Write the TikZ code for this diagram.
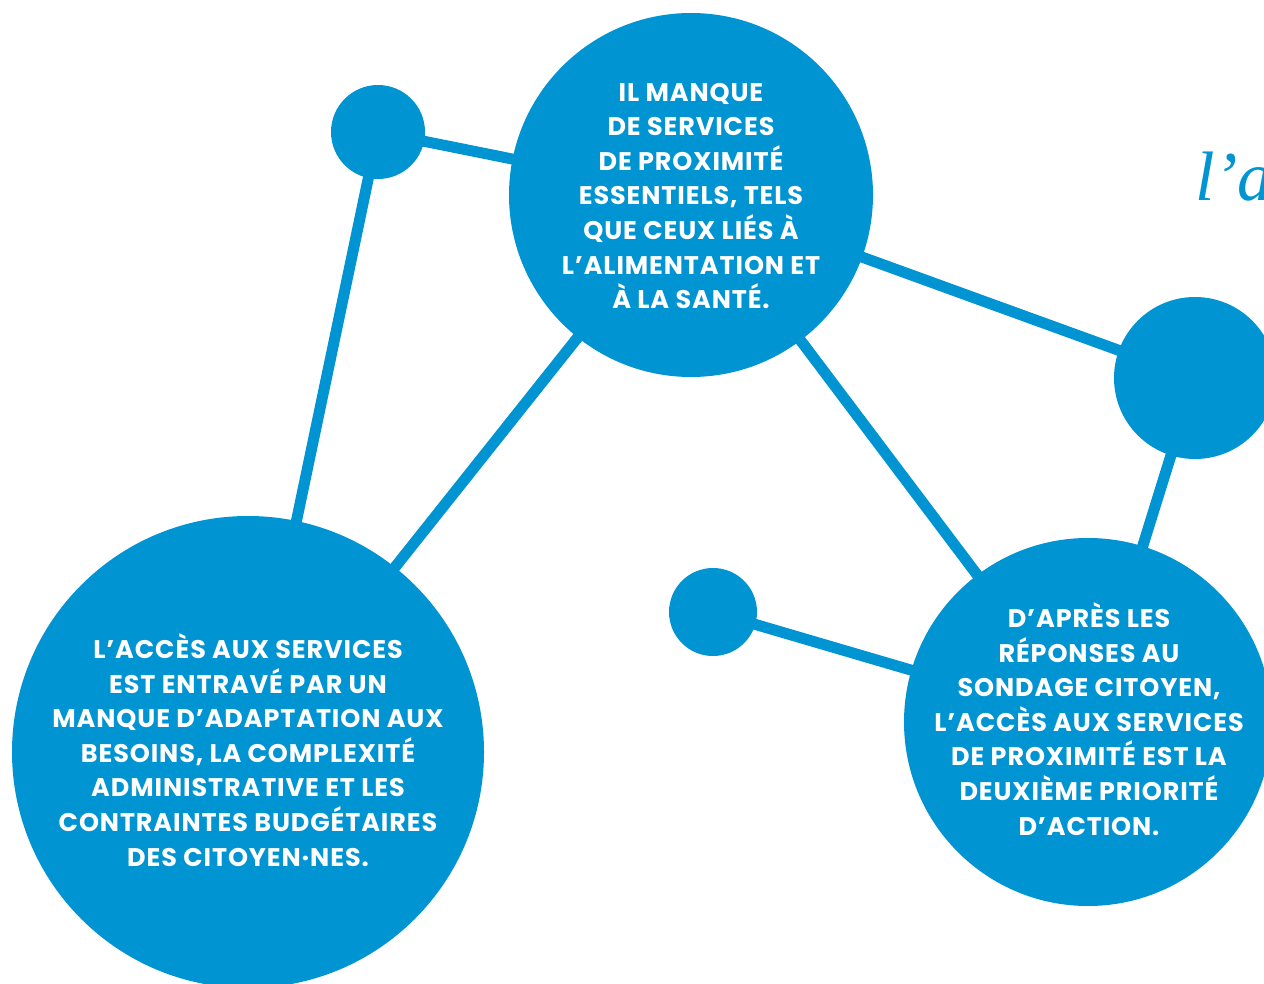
\documentclass[tikz,border=0pt]{standalone}
\usepackage{fontspec}
\setmainfont{Poppins}[LetterSpace=3.5]
\newfontfamily\serifit{Liberation Serif}
\usetikzlibrary{backgrounds}
\definecolor{cblue}{RGB}{0,148,210}
\tikzset{
  bubble/.style={circle, fill=cblue, inner sep=0pt},
  btext/.style={inner sep=0pt, text=white, align=center,
    font={\bfseries\fontsize{25.5}{34.6}\selectfont}},
  link/.style={draw=cblue, line width=11pt}
}
\begin{document}
\begin{tikzpicture}[x=1pt,y=-1pt]
\useasboundingbox (0,0) rectangle (1264,984);
\clip (0,0) rectangle (1264,984);
\node[bubble, minimum size=364pt] (top) at (691,195) {};
\node[bubble, minimum size=94pt] (tl) at (378,132) {};
\node[bubble, minimum size=472pt] (bl) at (248,752) {};
\node[bubble, minimum size=162pt] (rt) at (1195,378) {};
\node[bubble, minimum size=88pt] (mid) at (713,612) {};
\node[bubble, minimum size=368pt] (br) at (1088,722) {};
\node[btext] (toptext) at (691,196) {IL MANQUE\\DE SERVICES\\DE PROXIMITÉ\\ESSENTIELS, TELS\\QUE CEUX LIÉS À\\L’ALIMENTATION ET\\À LA SANTÉ.};
\node[btext] (bltext) at (248,750) {L’ACCÈS AUX SERVICES\\EST ENTRAVÉ PAR UN\\MANQUE D’ADAPTATION AUX\\BESOINS, LA COMPLEXITÉ\\ADMINISTRATIVE ET LES\\CONTRAINTES BUDGÉTAIRES\\DES CITOYEN·NES.};
\node[btext] (brtext) at (1089,719) {D’APRÈS LES\\RÉPONSES AU\\SONDAGE CITOYEN,\\L’ACCÈS AUX SERVICES\\DE PROXIMITÉ EST LA\\DEUXIÈME PRIORITÉ\\D’ACTION.};
\node[anchor=base west, text=cblue, font={\serifit\itshape\fontsize{70}{70}\selectfont}, inner sep=0pt] (la) at (1195,201) {l’a};
\begin{scope}[on background layer]
\draw[link] (tl.center) -- (top.center);
\draw[link] (tl.center) -- (bl.center);
\draw[link] (top.center) -- (bl.center);
\draw[link] (top.center) -- (rt.center);
\draw[link] (top.center) -- (br.center);
\draw[link] (rt.center) -- (br.center);
\draw[link] (mid.center) -- (br.center);
\end{scope}
\end{tikzpicture}
\end{document}
